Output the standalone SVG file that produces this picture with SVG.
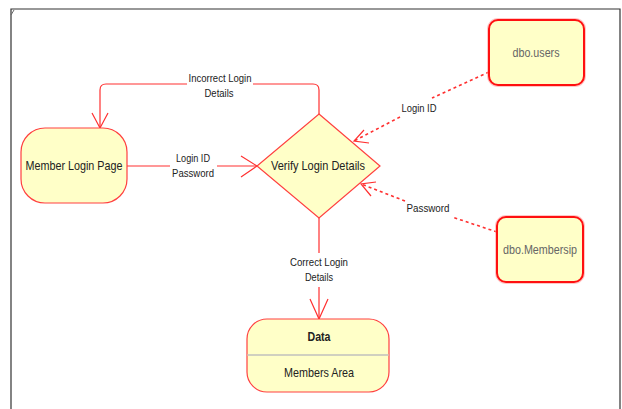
<svg xmlns="http://www.w3.org/2000/svg" width="622" height="409" viewBox="0 0 622 409">
<style>
text{font-family:"Liberation Sans",Arial,sans-serif;fill:#222}
.node{fill:#ffffc8;stroke:#ff4040;stroke-width:1.2}
.db{fill:#ffffc8;stroke:#ff1010;stroke-width:2}
.glow{fill:none;stroke:#ff9090;stroke-width:4;opacity:0.5}
.conn{fill:none;stroke:#ff3030;stroke-width:1.2}
.dash{fill:none;stroke:#ff3030;stroke-width:1.6;stroke-dasharray:3,3}
.lbl{font-size:11px;text-anchor:middle}
.nt{font-size:13px;text-anchor:middle}
.dbt{font-size:13px;text-anchor:middle;fill:#666}
</style>
<rect x="0" y="0" width="622" height="409" fill="#fff"/>
<g id="frame">
<path d="M11,409 V9 H620 V409" fill="none" stroke="#333" stroke-width="1.2"/>
<path d="M11,15 L14,10" stroke="#666" stroke-width="1"/>
</g>
<g id="connectors">
<path class="conn" d="M319,114 V90 Q319,84 313,84 H253"/>
<path class="conn" d="M187,84 H106 Q100,84 100,90 V128"/>
<path class="conn" d="M92,113 L100,128 L108,113"/>
<path class="conn" d="M127,166 H170 M217,166 H257"/>
<path class="conn" d="M241,156 L257,166 L241,177"/>
<path class="conn" d="M319,217 V253 M319,287 V319"/>
<path class="conn" d="M310,299 L319,319 L328,299"/>
<path class="dash" d="M489,72 L432,98 M400,117 L354,141"/>
<path class="conn" d="M364,130 L354,141 L369,143"/>
<path class="dash" d="M497,232 L452,217 M405,201 L361,184"/>
<path class="conn" d="M376,182 L361,184 L371,196"/>
<text class="lbl" x="220" y="82" textLength="63" lengthAdjust="spacingAndGlyphs">Incorrect Login</text>
<text class="lbl" x="219" y="97" textLength="29" lengthAdjust="spacingAndGlyphs">Details</text>
<text class="lbl" x="193" y="162" textLength="34" lengthAdjust="spacingAndGlyphs">Login ID</text>
<text class="lbl" x="193" y="177" textLength="42" lengthAdjust="spacingAndGlyphs">Password</text>
<text class="lbl" x="319" y="266" textLength="58" lengthAdjust="spacingAndGlyphs">Correct Login</text>
<text class="lbl" x="319" y="281" textLength="28" lengthAdjust="spacingAndGlyphs">Details</text>
<text class="lbl" x="419" y="112" textLength="35" lengthAdjust="spacingAndGlyphs">Login ID</text>
<text class="lbl" x="428" y="212" textLength="43" lengthAdjust="spacingAndGlyphs">Password</text>
</g>
<g id="member-login-page">
<rect class="node" x="21" y="128" width="106" height="75" rx="24" ry="24"/>
<text class="nt" x="74" y="170" textLength="97" lengthAdjust="spacingAndGlyphs">Member Login Page</text>
</g>
<g id="verify-login-details">
<polygon class="node" points="319,114 380,166 319,218 257,166"/>
<text class="nt" x="318" y="170" textLength="94" lengthAdjust="spacingAndGlyphs">Verify Login Details</text>
</g>
<g id="dbo-users">
<rect class="glow" x="489" y="20" width="95" height="65" rx="9"/>
<rect class="db" x="489" y="20" width="95" height="65" rx="9"/>
<text class="dbt" x="536" y="57" textLength="47" lengthAdjust="spacingAndGlyphs">dbo.users</text>
</g>
<g id="dbo-membersip">
<rect class="glow" x="497" y="217" width="86" height="65" rx="9"/>
<rect class="db" x="497" y="217" width="86" height="65" rx="9"/>
<text class="dbt" x="540" y="254" textLength="74" lengthAdjust="spacingAndGlyphs">dbo.Membersip</text>
</g>
<g id="data">
<rect class="node" x="247" y="319" width="142" height="73" rx="20" ry="20"/>
<line x1="247.5" y1="355" x2="388.5" y2="355" stroke="#d0d0c0" stroke-width="2"/>
<text class="nt" x="319" y="341" font-weight="bold" textLength="23" lengthAdjust="spacingAndGlyphs">Data</text>
<text class="nt" x="319" y="377" textLength="70" lengthAdjust="spacingAndGlyphs">Members Area</text>
</g>
</svg>
